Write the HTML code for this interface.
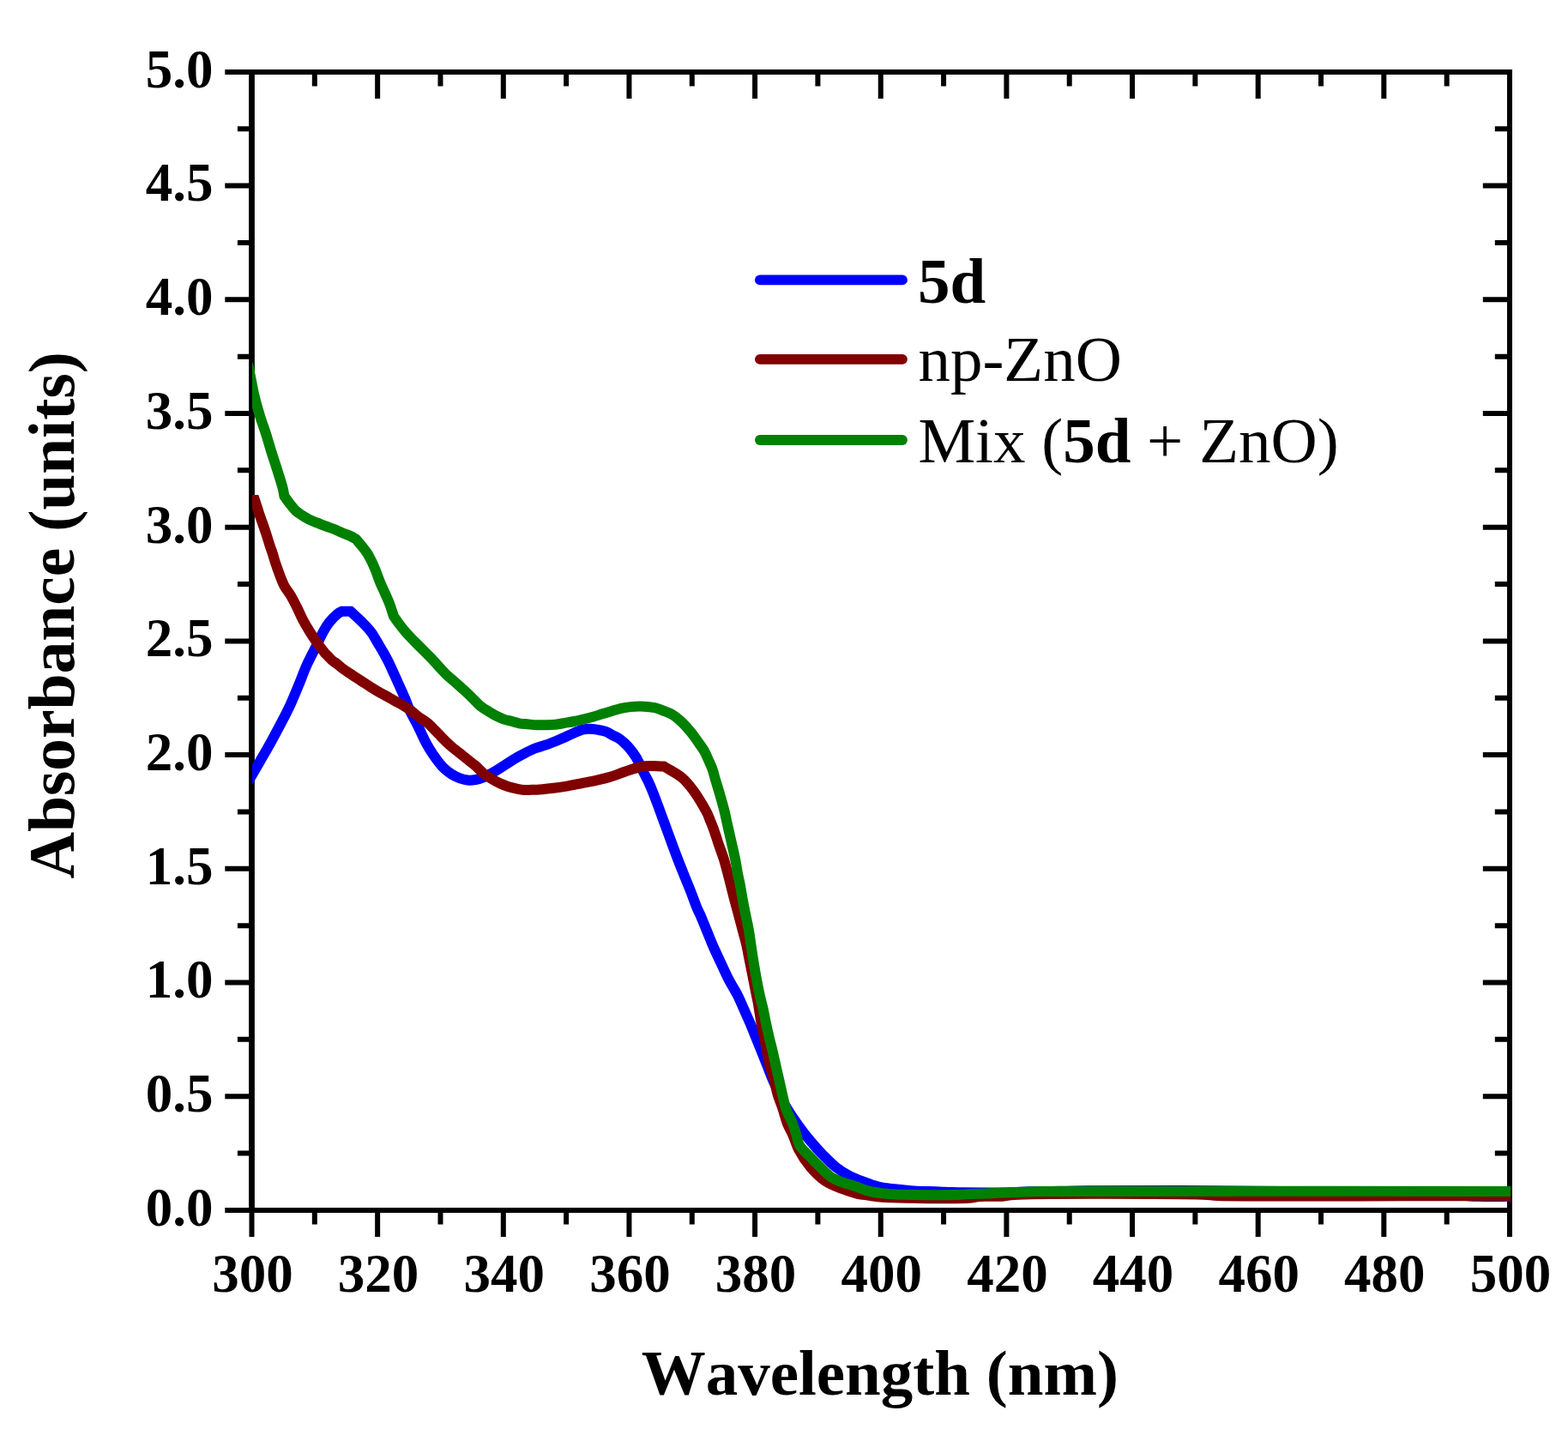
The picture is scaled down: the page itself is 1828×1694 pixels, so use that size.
<!DOCTYPE html><html><head><meta charset="utf-8"><style>html,body{margin:0;padding:0;background:#fff;}svg{display:block;} text{font-kerning:none;font-variant-ligatures:none;}</style></head><body>
<svg width="1828" height="1694" viewBox="0 0 1828 1694">
<rect width="1828" height="1694" fill="#fff"/>
<defs><clipPath id="pc"><rect x="294" y="83.9" width="1467.0" height="1327.0"/></clipPath></defs>
<path d="M262.3 1410.90H293.5M276.9 1344.55H293.5M1760.0 1344.55H1742.8M262.3 1278.20H293.5M1760.0 1278.20H1728.8M276.9 1211.85H293.5M1760.0 1211.85H1742.8M262.3 1145.50H293.5M1760.0 1145.50H1728.8M276.9 1079.15H293.5M1760.0 1079.15H1742.8M262.3 1012.80H293.5M1760.0 1012.80H1728.8M276.9 946.45H293.5M1760.0 946.45H1742.8M262.3 880.10H293.5M1760.0 880.10H1728.8M276.9 813.75H293.5M1760.0 813.75H1742.8M262.3 747.40H293.5M1760.0 747.40H1728.8M276.9 681.05H293.5M1760.0 681.05H1742.8M262.3 614.70H293.5M1760.0 614.70H1728.8M276.9 548.35H293.5M1760.0 548.35H1742.8M262.3 482.00H293.5M1760.0 482.00H1728.8M276.9 415.65H293.5M1760.0 415.65H1742.8M262.3 349.30H293.5M1760.0 349.30H1728.8M276.9 282.95H293.5M1760.0 282.95H1742.8M262.3 216.60H293.5M1760.0 216.60H1728.8M276.9 150.25H293.5M1760.0 150.25H1742.8M262.3 83.90H293.5" stroke="#000" stroke-width="6" fill="none"/>
<path d="M293.50 1410.9V1442.1M366.82 1410.9V1427.5M366.82 83.9V100.5M440.15 1410.9V1442.1M440.15 83.9V115.1M513.48 1410.9V1427.5M513.48 83.9V100.5M586.80 1410.9V1442.1M586.80 83.9V115.1M660.12 1410.9V1427.5M660.12 83.9V100.5M733.45 1410.9V1442.1M733.45 83.9V115.1M806.77 1410.9V1427.5M806.77 83.9V100.5M880.10 1410.9V1442.1M880.10 83.9V115.1M953.42 1410.9V1427.5M953.42 83.9V100.5M1026.75 1410.9V1442.1M1026.75 83.9V115.1M1100.08 1410.9V1427.5M1100.08 83.9V100.5M1173.40 1410.9V1442.1M1173.40 83.9V115.1M1246.72 1410.9V1427.5M1246.72 83.9V100.5M1320.05 1410.9V1442.1M1320.05 83.9V115.1M1393.38 1410.9V1427.5M1393.38 83.9V100.5M1466.70 1410.9V1442.1M1466.70 83.9V115.1M1540.03 1410.9V1427.5M1540.03 83.9V100.5M1613.35 1410.9V1442.1M1613.35 83.9V115.1M1686.67 1410.9V1427.5M1686.67 83.9V100.5M1760.00 1410.9V1442.1" stroke="#000" stroke-width="6" fill="none"/>
<path d="M290.1 83.90H1763.0M290.1 1410.90H1763.0" stroke="#000" stroke-width="6" fill="none"/>
<path d="M293.50 80.9V1413.9" stroke="#000" stroke-width="6.8" fill="none"/>
<path d="M1760.00 80.9V1413.9" stroke="#000" stroke-width="6" fill="none"/>
<g font-family="Liberation Serif, serif" font-weight="bold" font-size="63" fill="#000">
<text x="248.4" y="1428.7" text-anchor="end">0.0</text>
<text x="248.4" y="1296.0" text-anchor="end">0.5</text>
<text x="248.4" y="1163.3" text-anchor="end">1.0</text>
<text x="248.4" y="1030.6" text-anchor="end">1.5</text>
<text x="248.4" y="897.9" text-anchor="end">2.0</text>
<text x="248.4" y="765.2" text-anchor="end">2.5</text>
<text x="248.4" y="632.5" text-anchor="end">3.0</text>
<text x="248.4" y="499.8" text-anchor="end">3.5</text>
<text x="248.4" y="367.1" text-anchor="end">4.0</text>
<text x="248.4" y="234.4" text-anchor="end">4.5</text>
<text x="248.4" y="101.7" text-anchor="end">5.0</text>
<text x="294.5" y="1506.4" text-anchor="middle">300</text>
<text x="441.1" y="1506.4" text-anchor="middle">320</text>
<text x="587.8" y="1506.4" text-anchor="middle">340</text>
<text x="734.5" y="1506.4" text-anchor="middle">360</text>
<text x="881.1" y="1506.4" text-anchor="middle">380</text>
<text x="1027.8" y="1506.4" text-anchor="middle">400</text>
<text x="1174.4" y="1506.4" text-anchor="middle">420</text>
<text x="1321.0" y="1506.4" text-anchor="middle">440</text>
<text x="1467.7" y="1506.4" text-anchor="middle">460</text>
<text x="1614.3" y="1506.4" text-anchor="middle">480</text>
<text x="1761.0" y="1506.4" text-anchor="middle">500</text>
</g>
<text x="747.7" y="1625.9" font-family="Liberation Serif, serif" font-weight="bold" font-size="75">Wavelength (nm)</text>
<text transform="translate(86,1024.6) rotate(-90)" font-family="Liberation Serif, serif" font-weight="bold" font-size="75.5">Absorbance (units)</text>
<g clip-path="url(#pc)" fill="none" stroke-width="12" stroke-linejoin="miter" stroke-miterlimit="4">
<path d="M288.00 913.50C290.00 910.07 291.82 906.96 294.00 903.20C296.63 898.67 299.53 893.71 302.70 888.20C306.57 881.48 311.34 873.30 315.50 865.80C319.64 858.33 323.70 850.82 327.60 843.30C331.46 835.85 335.33 828.42 338.80 820.90C342.22 813.49 345.21 805.98 348.30 798.50C351.38 791.05 353.97 783.51 357.30 776.10C360.69 768.54 365.05 760.57 368.50 753.60C371.48 747.57 374.05 741.63 376.80 736.70C379.05 732.66 380.82 729.42 383.50 726.00C386.40 722.30 390.85 717.65 393.80 715.40C395.62 714.01 397.07 713.60 398.70 712.70C402.00 712.70 405.30 712.70 408.60 712.70C413.10 716.90 417.95 721.09 422.10 725.30C425.93 729.19 429.56 732.79 432.70 737.00C435.86 741.22 438.44 746.34 441.00 750.60C443.26 754.35 445.29 757.63 447.30 761.20C449.29 764.74 451.22 768.32 453.00 771.90C454.75 775.42 456.28 778.96 457.90 782.50C459.52 786.03 461.10 789.57 462.70 793.10C464.30 796.63 465.92 800.15 467.50 803.70C469.09 807.25 470.62 810.62 472.20 814.40C473.95 818.60 475.31 823.01 477.50 827.80C480.17 833.63 484.24 840.37 487.40 846.70C490.53 852.97 493.30 859.83 496.40 865.60C499.15 870.72 501.68 875.02 504.90 879.70C508.38 884.75 512.76 890.79 516.70 894.80C519.83 897.98 522.84 900.31 526.10 902.40C529.15 904.36 532.38 905.91 535.60 907.10C538.68 908.24 541.83 909.19 545.00 909.50C548.13 909.81 551.37 909.54 554.50 909.00C557.67 908.45 560.52 907.59 563.90 906.20C568.23 904.42 573.43 901.34 578.10 898.60C582.86 895.81 587.47 892.52 592.20 889.60C596.90 886.69 601.68 883.73 606.40 881.10C610.94 878.58 616.42 875.72 620.00 874.10C622.24 873.09 623.41 872.68 625.60 871.90C628.64 870.82 632.96 869.68 636.60 868.40C640.26 867.11 643.87 865.66 647.50 864.20C651.17 862.73 654.86 861.23 658.50 859.60C662.16 857.96 665.72 855.96 669.40 854.40C673.02 852.86 676.68 851.04 680.40 850.30C683.98 849.59 687.88 849.67 691.30 849.90C694.37 850.11 697.26 850.82 700.00 851.40C702.50 851.93 704.79 852.28 707.10 853.20C709.53 854.17 711.82 855.93 714.20 857.20C716.55 858.46 719.02 859.32 721.30 860.80C723.73 862.38 726.10 864.45 728.30 866.50C730.50 868.55 732.46 870.63 734.50 873.10C736.81 875.89 739.34 879.33 741.30 882.50C743.13 885.47 744.45 888.42 746.00 891.50C747.62 894.71 749.17 898.15 750.80 901.40C752.40 904.59 754.20 907.66 755.70 910.80C757.16 913.86 758.19 916.33 759.70 920.00C761.90 925.37 764.64 932.65 767.40 940.00C770.77 948.98 774.72 960.00 778.40 970.00C782.08 980.00 786.07 991.03 789.50 1000.00C792.31 1007.36 794.74 1013.36 797.40 1020.00C800.04 1026.60 802.81 1033.12 805.40 1039.70C807.98 1046.25 810.78 1054.46 812.90 1059.40C814.21 1062.46 815.05 1063.68 816.40 1066.70C818.54 1071.51 821.60 1079.30 824.20 1085.60C826.80 1091.90 829.26 1098.24 832.00 1104.50C834.76 1110.80 837.76 1117.03 840.70 1123.30C843.66 1129.60 846.49 1136.00 849.70 1142.20C852.92 1148.41 856.99 1154.54 860.00 1160.50C862.75 1165.95 864.79 1171.12 867.20 1176.50C869.65 1181.98 872.25 1187.55 874.60 1193.10C876.92 1198.59 878.98 1204.10 881.20 1209.60C883.42 1215.10 885.68 1220.60 887.90 1226.10C890.12 1231.60 892.30 1237.09 894.50 1242.60C896.70 1248.12 898.79 1253.86 901.10 1259.20C903.30 1264.31 905.62 1269.07 908.00 1274.00C910.41 1279.00 912.37 1283.57 915.50 1289.00C919.50 1295.94 925.48 1304.73 930.60 1311.90C935.36 1318.57 940.16 1324.79 945.10 1330.70C949.80 1336.32 954.57 1341.56 959.50 1346.60C964.31 1351.51 969.18 1356.57 974.30 1360.60C979.07 1364.35 984.46 1367.65 989.10 1370.20C992.93 1372.31 996.54 1373.76 1000.00 1375.20C1003.07 1376.48 1005.87 1377.43 1008.80 1378.50C1011.70 1379.56 1014.58 1380.65 1017.50 1381.60C1020.41 1382.55 1023.05 1383.50 1026.30 1384.20C1030.21 1385.04 1035.03 1385.50 1039.40 1386.00C1043.76 1386.50 1048.13 1386.78 1052.50 1387.20C1056.87 1387.62 1060.36 1388.16 1065.60 1388.50C1073.44 1389.01 1086.83 1389.08 1095.00 1389.40C1100.83 1389.63 1103.54 1389.93 1110.00 1390.10C1121.79 1390.41 1147.09 1390.43 1160.00 1390.40C1168.17 1390.38 1173.34 1390.40 1180.00 1390.20C1186.67 1390.00 1193.81 1389.35 1200.00 1389.20C1205.36 1389.07 1208.52 1389.26 1215.00 1389.20C1226.96 1389.08 1244.68 1388.41 1266.00 1388.20C1301.82 1387.85 1358.68 1387.89 1410.00 1388.20C1468.95 1388.56 1546.75 1389.38 1600.00 1390.50C1638.64 1391.31 1678.40 1392.57 1700.00 1393.50C1710.37 1393.95 1714.18 1394.55 1723.00 1394.80C1734.90 1395.14 1751.00 1394.80 1765.00 1394.80" stroke="#0000ff"/>
<path d="M288.00 583.00C291.00 583.00 294.00 583.00 297.00 583.00C298.67 588.10 300.49 593.81 302.00 598.30C303.20 601.85 304.20 604.64 305.30 607.80C306.40 610.94 307.53 614.05 308.60 617.20C309.67 620.35 310.70 623.54 311.70 626.70C312.70 629.84 313.57 632.97 314.60 636.10C315.64 639.27 316.88 642.43 317.90 645.60C318.91 648.73 319.69 651.87 320.70 655.00C321.72 658.17 322.87 661.35 324.00 664.50C325.13 667.65 326.24 670.78 327.50 673.90C328.77 677.05 329.87 680.13 331.60 683.30C333.56 686.89 336.56 690.27 338.90 694.20C341.48 698.53 343.94 703.57 346.30 708.30C348.64 713.00 350.53 717.82 353.00 722.50C355.52 727.29 358.37 732.02 361.30 736.70C364.27 741.45 367.60 746.47 370.70 750.80C373.46 754.66 376.17 757.93 378.90 761.50C381.50 764.13 384.11 767.13 386.70 769.40C388.97 771.38 391.28 772.76 393.50 774.50C395.71 776.23 397.52 777.96 400.00 779.80C403.06 782.08 407.06 784.64 410.60 787.00C414.12 789.34 417.66 791.60 421.20 793.90C424.76 796.20 428.33 798.57 431.90 800.80C435.43 803.00 438.94 805.16 442.50 807.20C446.01 809.22 449.96 811.21 453.10 813.00C455.66 814.46 457.50 815.70 460.00 817.10C462.87 818.72 466.30 820.27 469.40 822.10C472.60 823.99 475.80 826.03 478.90 828.30C482.11 830.65 485.10 833.62 488.30 836.00C491.41 838.31 494.74 839.94 497.80 842.40C501.06 845.03 504.09 848.29 507.20 851.40C510.39 854.59 513.51 858.11 516.70 861.30C519.81 864.41 522.89 867.51 526.10 870.30C529.20 872.99 532.45 875.28 535.60 877.80C538.75 880.32 541.85 882.88 545.00 885.40C548.15 887.92 551.40 890.21 554.50 892.90C557.71 895.69 560.64 899.30 563.90 901.90C566.93 904.32 570.12 906.18 573.30 908.10C576.42 909.98 579.59 911.80 582.80 913.30C585.90 914.75 589.03 915.98 592.20 917.00C595.33 918.01 598.53 918.73 601.70 919.40C604.83 920.06 608.00 920.77 611.10 921.00C614.10 921.22 617.01 920.88 620.00 920.80C623.04 920.72 625.70 920.74 629.20 920.50C633.89 920.18 640.13 919.48 645.60 918.80C651.10 918.12 656.62 917.35 662.10 916.40C667.59 915.45 673.03 914.20 678.50 913.10C683.97 912.00 689.45 911.03 694.90 909.80C700.38 908.56 705.87 907.32 711.30 905.70C716.80 904.06 722.62 901.73 727.70 900.00C732.09 898.51 735.87 897.06 740.00 895.90C744.07 894.76 747.59 893.59 752.30 893.10C758.48 892.46 766.77 893.37 774.00 893.50C781.07 897.93 789.24 901.74 795.20 906.80C800.56 911.36 804.48 916.51 808.60 922.00C812.88 927.71 817.38 935.51 820.30 940.50C822.22 943.78 823.46 945.96 824.80 948.80C826.13 951.63 827.14 954.59 828.30 957.50C829.47 960.42 830.71 963.36 831.80 966.30C832.87 969.20 833.86 972.17 834.80 975.00C835.69 977.67 836.24 979.64 837.30 982.80C838.95 987.74 842.32 996.66 843.90 1001.70C844.93 1005.01 845.35 1006.86 846.20 1010.00C847.32 1014.10 848.69 1019.12 850.00 1024.20C851.51 1030.04 853.19 1037.27 854.70 1043.10C856.01 1048.15 857.24 1052.49 858.50 1057.20C859.77 1061.92 861.05 1066.66 862.30 1071.40C863.55 1076.13 864.75 1080.88 866.00 1085.60C867.25 1090.31 868.61 1094.64 869.80 1099.70C871.17 1105.52 872.33 1112.30 873.60 1118.60C874.87 1124.90 876.15 1131.20 877.40 1137.50C878.65 1143.80 879.99 1150.87 881.10 1156.40C881.97 1160.74 882.65 1163.39 883.50 1168.00C884.75 1174.76 886.24 1185.62 887.60 1193.10C888.71 1199.19 889.80 1204.10 890.90 1209.60C892.00 1215.10 893.10 1220.60 894.20 1226.10C895.30 1231.60 896.13 1237.12 897.50 1242.60C898.89 1248.16 900.98 1253.66 902.50 1259.20C904.01 1264.69 904.97 1270.24 906.60 1275.70C908.26 1281.24 910.53 1286.58 912.40 1292.20C914.33 1298.01 915.83 1304.49 918.00 1310.00C919.98 1315.02 922.58 1319.14 924.70 1324.00C926.93 1329.12 928.12 1334.51 931.00 1340.00C934.43 1346.54 939.40 1354.14 944.60 1360.30C949.75 1366.40 955.64 1372.47 962.00 1376.80C968.06 1380.93 975.17 1383.45 981.70 1386.00C987.83 1388.39 994.50 1390.52 1000.00 1391.80C1004.38 1392.82 1007.65 1392.99 1012.00 1393.60C1017.17 1394.32 1022.31 1395.27 1029.00 1395.80C1038.57 1396.55 1050.54 1396.61 1064.00 1396.80C1082.34 1397.06 1115.63 1397.77 1129.00 1396.80C1135.01 1396.36 1136.87 1395.29 1142.00 1394.90C1149.36 1394.34 1161.64 1395.21 1169.00 1394.70C1174.13 1394.35 1175.00 1393.46 1182.00 1393.00C1210.74 1391.12 1371.02 1391.69 1403.00 1392.80C1411.88 1393.11 1410.72 1393.67 1420.00 1394.00C1461.77 1395.47 1650.00 1394.00 1765.00 1394.00" stroke="#800000"/>
<path d="M289.00 424.00C290.53 431.67 292.31 440.57 293.60 447.00C294.53 451.64 294.89 454.28 296.00 459.00C297.63 465.92 300.46 476.35 302.90 484.40C305.15 491.82 307.75 498.51 310.00 505.60C312.25 512.67 314.19 519.81 316.40 526.90C318.62 534.01 321.08 541.10 323.30 548.20C325.51 555.26 328.30 563.78 329.70 569.40C330.61 573.04 330.90 575.47 331.50 578.50C333.57 581.33 335.51 584.20 337.70 587.00C339.94 589.87 342.32 593.21 344.80 595.50C346.92 597.46 348.97 598.60 351.40 600.20C354.23 602.06 357.59 604.30 360.80 605.90C363.90 607.44 367.14 608.45 370.30 609.70C373.44 610.95 376.55 612.22 379.70 613.40C382.85 614.58 386.07 615.54 389.20 616.80C392.37 618.07 395.45 619.66 398.60 621.00C401.75 622.33 405.22 623.46 408.10 624.80C410.62 625.97 412.70 627.27 415.00 628.50C417.10 631.03 419.20 633.48 421.30 636.10C423.50 638.84 425.98 641.69 427.90 644.60C429.72 647.36 431.09 650.09 432.60 653.10C434.24 656.36 435.72 659.68 437.30 663.50C439.18 668.04 441.00 673.75 443.00 678.60C444.91 683.23 447.09 687.64 449.00 692.00C450.81 696.13 452.59 699.87 454.20 704.10C455.91 708.61 457.33 713.57 458.90 718.30C460.93 721.20 462.77 724.03 465.00 727.00C467.46 730.28 470.16 733.73 473.10 737.10C476.26 740.73 480.01 744.53 483.40 748.00C486.60 751.28 489.75 754.25 492.90 757.40C496.05 760.55 499.19 763.63 502.30 766.90C505.49 770.26 508.58 773.85 511.80 777.30C515.05 780.78 518.32 784.49 521.70 787.70C524.92 790.76 528.35 793.35 531.60 796.20C534.81 799.02 537.97 801.80 541.10 804.70C544.27 807.63 547.37 810.65 550.50 813.70C553.67 816.79 556.66 820.38 560.00 823.10C563.15 825.67 566.72 827.73 569.90 829.70C572.73 831.45 575.24 832.94 578.10 834.40C581.09 835.92 584.31 837.49 587.50 838.60C590.61 839.68 593.85 840.17 597.00 841.00C600.15 841.83 603.34 843.05 606.40 843.60C609.23 844.11 611.75 844.05 614.70 844.30C618.09 844.58 621.96 845.05 625.60 845.20C629.26 845.35 632.94 845.28 636.60 845.20C640.24 845.12 643.87 845.08 647.50 844.70C651.17 844.32 654.84 843.52 658.50 842.90C662.14 842.28 665.77 841.73 669.40 841.00C673.07 840.26 676.75 839.38 680.40 838.50C684.05 837.62 687.68 836.73 691.30 835.70C694.95 834.66 698.56 833.42 702.20 832.30C705.86 831.18 709.54 830.07 713.20 829.00C716.84 827.94 720.43 826.72 724.10 825.90C727.74 825.09 731.43 824.50 735.10 824.10C738.73 823.70 742.36 823.48 746.00 823.50C749.66 823.52 753.63 823.82 757.00 824.20C759.89 824.53 762.38 824.81 765.00 825.50C767.65 826.20 769.99 827.28 772.80 828.40C776.17 829.74 780.20 830.93 783.80 833.10C787.89 835.56 792.13 839.30 795.80 842.80C799.38 846.22 802.58 850.07 805.60 853.80C808.49 857.37 811.02 861.04 813.60 864.70C816.15 868.31 818.87 871.87 821.00 875.60C823.05 879.18 824.56 882.92 826.20 886.60C827.82 890.22 829.56 893.93 830.80 897.50C831.95 900.79 832.41 903.44 833.50 907.20C835.03 912.47 837.38 919.79 839.20 926.10C841.01 932.39 842.83 938.68 844.40 945.00C845.96 951.28 847.18 957.60 848.60 963.90C850.02 970.20 851.48 976.50 852.90 982.80C854.32 989.10 855.86 995.44 857.10 1001.70C858.32 1007.84 859.30 1015.00 860.30 1020.00C861.00 1023.51 861.60 1025.37 862.30 1028.90C863.32 1034.02 864.43 1041.51 865.60 1047.80C866.77 1054.11 868.05 1060.40 869.30 1066.70C870.55 1073.00 872.00 1079.29 873.10 1085.60C874.20 1091.89 874.95 1098.21 875.90 1104.50C876.85 1110.78 877.77 1117.03 878.80 1123.30C879.84 1129.60 880.92 1135.91 882.10 1142.20C883.28 1148.51 884.57 1155.14 885.90 1161.10C887.11 1166.51 888.53 1171.26 889.70 1176.50C890.91 1181.92 891.83 1187.58 893.00 1193.10C894.17 1198.62 895.40 1204.11 896.70 1209.60C898.00 1215.11 899.50 1220.59 900.80 1226.10C902.10 1231.59 903.25 1237.09 904.50 1242.60C905.75 1248.13 907.05 1253.67 908.30 1259.20C909.55 1264.71 910.70 1270.21 912.00 1275.70C913.30 1281.21 914.76 1288.14 916.10 1292.20C916.91 1294.67 917.52 1295.81 918.50 1298.00C919.81 1300.96 921.86 1304.54 923.40 1308.30C925.16 1312.61 926.84 1317.91 928.30 1322.50C929.65 1326.76 929.68 1330.90 931.90 1334.90C934.56 1339.69 939.97 1344.12 944.30 1348.70C948.79 1353.46 953.96 1358.70 958.40 1362.90C962.15 1366.45 965.20 1369.85 969.10 1372.40C972.91 1374.89 977.05 1376.37 981.50 1378.10C986.42 1380.01 992.56 1381.51 997.40 1383.20C1001.54 1384.64 1005.22 1386.42 1008.80 1387.50C1011.86 1388.43 1014.58 1388.92 1017.50 1389.50C1020.42 1390.08 1023.37 1390.60 1026.30 1391.00C1029.20 1391.40 1032.09 1391.65 1035.00 1391.90C1037.92 1392.15 1040.87 1392.35 1043.80 1392.50C1046.71 1392.65 1048.23 1392.73 1052.50 1392.80C1064.39 1393.00 1107.50 1393.30 1120.00 1392.80C1124.82 1392.61 1126.09 1392.21 1130.00 1392.00C1135.52 1391.70 1143.33 1391.67 1150.00 1391.40C1156.67 1391.13 1162.66 1390.69 1170.00 1390.40C1178.99 1390.04 1191.72 1389.76 1200.00 1389.50C1205.86 1389.31 1206.42 1389.14 1215.00 1389.00C1266.97 1388.13 1581.67 1389.00 1765.00 1389.00" stroke="#008000"/>
</g>
<g stroke-width="11.8" stroke-linecap="round">
<path d="M885.9 326.4H1052" stroke="#0000ff"/>
<path d="M885.9 418.9H1052" stroke="#800000"/>
<path d="M885.9 513H1052" stroke="#008000"/>
</g>
<g font-family="Liberation Serif, serif" font-size="75" fill="#000">
<text x="1070" y="353.2" font-weight="bold">5d</text>
<text x="1070.4" y="444">np-ZnO</text>
<text x="1070.4" y="539.1">Mix (<tspan font-weight="bold">5d</tspan> + ZnO)</text>
</g>
</svg></body></html>
